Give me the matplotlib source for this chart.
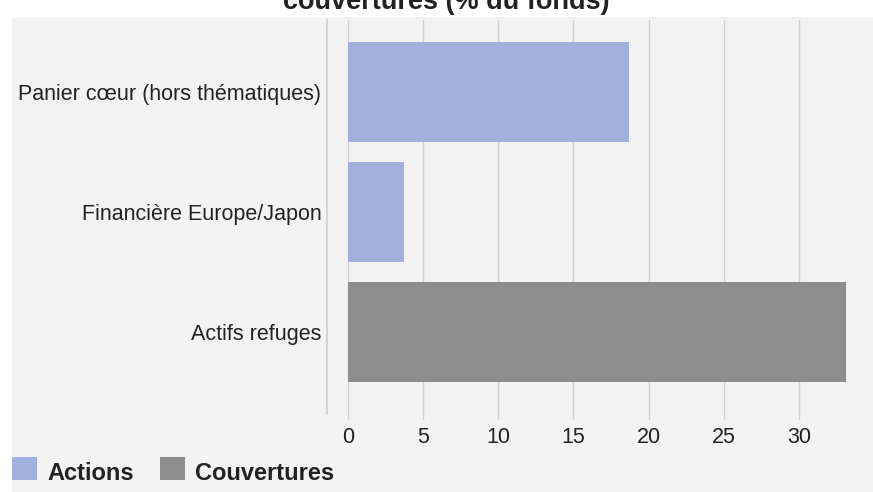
import matplotlib.pyplot as plt
from matplotlib.patches import Rectangle

plt.rcParams["font.family"] = ["Liberation Sans", "DejaVu Sans"]

TITLE = "couvertures (% du fonds)"
categories = ["Panier cœur (hors thématiques)", "Financière Europe/Japon", "Actifs refuges"]
series_names = ["Actions", "Couvertures"]
actions = [18.7, 3.7, 0.0]
couvertures = [0.0, 0.0, 33.15]
xticks = [0, 5, 10, 15, 20, 25, 30]

colors = ["#a1b0dc", "#8e8e8e"]
W, H = 873, 492


def px(x, y):
    # pixel coords (top-left origin) -> figure fraction
    return x / W, 1 - y / H


fig = plt.figure(figsize=(W / 100, H / 100), dpi=100)
fig.patch.set_facecolor("white")
fig.patches.append(Rectangle(px(12, 492), (W - 12) / W, (492 - 17) / H,
                             transform=fig.transFigure, facecolor="#f3f3f3",
                             edgecolor="none", zorder=-5))

l, b = px(327, 420)
r, t = px(847, 20)
ax = fig.add_axes([l, b, r - l, t - b])
ax.set_facecolor("none")

pos = list(range(len(categories)))
for vals, c in zip([actions, couvertures], colors):
    ax.barh(pos, vals, height=0.833, color=c, linewidth=0, zorder=3)

ax.set_xlim(-1.4, 33.2)
ax.set_ylim(2.733, -0.6)
ax.set_xticks(xticks)
ax.set_yticks(pos)
ax.set_yticklabels(categories)
ax.tick_params(axis="x", length=0, pad=5, labelsize=15.5, labelcolor="#222222")
ax.tick_params(axis="y", length=0, pad=4, labelsize=15.5, labelcolor="#222222")
for s in ax.spines.values():
    s.set_visible(False)
ax.grid(axis="x", color="#d2d2d2", linewidth=1, zorder=1)
ax.axvline(-1.4, ymin=6 / 400, ymax=1, color="#cfcfcf", linewidth=1.2, zorder=1, clip_on=False)

# title (top part cut off by the frame)
fig.text(446 / W, 1 - 9 / H, TITLE, ha="center", va="baseline",
         fontsize=19.5, fontweight="bold", color="#222222")

# legend
legend_x = [(12, 47), (160, 195)]
for (sx, tx), name, c in zip(legend_x, series_names, colors):
    fig.patches.append(Rectangle(px(sx, 480), 25 / W, 23 / H, transform=fig.transFigure,
                                 facecolor=c, edgecolor="none", zorder=2))
    fig.text(tx / W, 1 - 480 / H, name, ha="left", va="baseline",
             fontsize=17, fontweight="bold", color="#222222")

fig.savefig("out.png", dpi=100)
